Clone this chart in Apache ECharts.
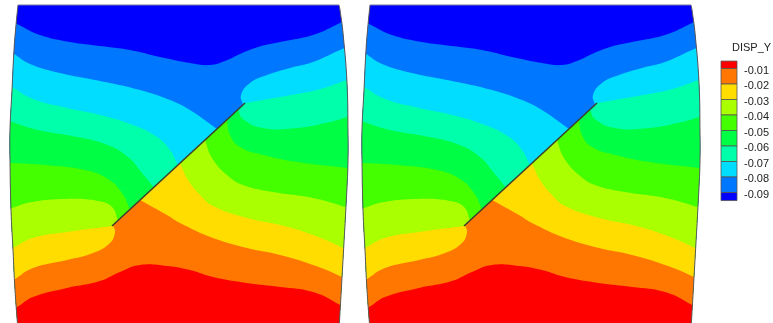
<!DOCTYPE html>
<html>
<head>
<meta charset="utf-8">
<style>
  html, body { margin: 0; padding: 0; background: #fff; overflow: hidden; }
  #main { width: 773px; height: 323px; filter: blur(0.5px); }
</style>
<script src="https://cdn.jsdelivr.net/npm/echarts@6/dist/echarts.min.js"></script>
</head>
<body>
<div id="main"></div>
<script>
// contour levels, top of the legend first
var levels = [-0.01, -0.02, -0.03, -0.04, -0.05, -0.06, -0.07, -0.08, -0.09];
var legendTop = -0.0052, legendBottom = -0.0952;
var bandColors = ['#ff0000', '#ff7700', '#ffdd00', '#aaff00', '#44ff00', '#00ff44', '#00ffaa', '#00ddff', '#0077ff', '#0000ff'];

// plate outline
var plateLeft = [[18, 5], [16, 25], [14, 50], [12, 90], [10, 130], [10, 160], [11, 210], [13, 250], [15, 290], [18, 330]];
var plateRight = [[339, 330], [343, 260], [347, 187], [348, 160], [348, 133], [347, 83], [343, 33], [340, 10], [339, 5]];
var crack = [[112, 226], [245, 103]];

// contour lines; L = left of the crack, R = right of it
var line1 = [[0, 16], [17, 24], [40, 35], [70, 42], [100, 46], [130, 50], [160, 57], [190, 63], [210, 65], [225, 61], [240, 54], [258, 47], [280, 42], [313, 35], [340, 23], [360, 13]];
var line2L = [[0, 46], [14, 54], [30, 64], [60, 73], [100, 81], [140, 90], [170, 100], [190, 110], [217, 129]];
var line2R = [[243, 105], [241, 95], [250, 83], [267, 75], [290, 68], [313, 62], [340, 50], [360, 42]];
var line3L = [[0, 80], [12, 87], [33, 99], [67, 108], [100, 115], [133, 125], [157, 137], [170, 150], [178, 165]];
var line3R = [[245, 103], [263, 100], [297, 94], [317, 90], [347, 80], [360, 75]];
var line4L = [[0, 118], [12, 122], [38, 130], [72, 136], [105, 144], [128, 157], [142, 173], [154, 187.5]];
var line4R = [[238, 109.5], [243, 119], [263, 128], [297, 128], [330, 122], [347, 117], [360, 112]];
var line5L = [[0, 163], [12, 163], [45, 165], [85, 170], [108, 179], [122, 193], [130, 209]];
var line5R = [[227, 120], [230, 135], [240, 147], [263, 155], [297, 162], [347, 168], [360, 170]];
var line6L = [[0, 213], [12, 208], [32, 202], [65, 199], [98, 201], [112, 207], [118, 220.5]];
var line6R = [[205, 140], [212, 158], [227, 175], [243, 185], [273, 192], [313, 198], [345, 207], [360, 213]];
var line7L = [[0, 255], [13, 248], [33, 238], [67, 232], [112, 226]];
var line7R = [[180, 163], [188, 180], [200, 195], [213, 206], [247, 218], [280, 225], [313, 235], [343, 248], [360, 257]];
var line8L = [[0, 288], [15, 279], [33, 268], [67, 260], [93, 253], [110, 243], [115, 232], [113, 225]];
var line8R = [[140, 200], [167, 215], [180, 223], [213, 238], [247, 248], [280, 255], [313, 265], [342, 277], [360, 288]];
var line9 = [[0, 315], [17, 307], [33, 297], [67, 288], [100, 281], [120, 272], [140, 265], [167, 266], [190, 270], [213, 277], [247, 283], [280, 287], [313, 292], [340, 305], [360, 318]];

// each entry is the upper edge of one painted layer, blue first
var layerLines = [
  [[[-15, -10], [365, -10]]],
  [line1],
  [line2L, line2R],
  [line3L, line3R],
  [line4L, line4R],
  [line5L, line5R],
  [line6L, line6R],
  [line7L, line7R],
  [line8L, line8R],
  [line9]
];

// repeated points keep the corners sharp when the polygon is smoothed
function layerPath(parts) {
  var path = [];
  parts.forEach(function (part, i) {
    if (i > 0) path.push(part[0]);
    path = path.concat(part);
    if (i < parts.length - 1) path.push(part[part.length - 1]);
  });
  var first = path[0], last = path[path.length - 1];
  return [first].concat(path, [last, [365, 345], [365, 345], [-15, 345], [-15, 345]]);
}

function toPixels(api, pts) {
  return pts.map(function (p) { return api.coord(p); });
}

function platePath() {
  var left = plateLeft, right = plateRight;
  return [left[0]].concat(left, [left[left.length - 1], right[0]], right, [right[right.length - 1]]);
}

function renderLayer(params, api) {
  var idx = api.value(0);
  return {
    type: 'polygon',
    shape: { points: toPixels(api, layerPath(layerLines[idx])), smooth: 0.45 },
    clipPath: { type: 'polygon', shape: { points: toPixels(api, platePath()), smooth: 0.45 } },
    style: { fill: bandColors[bandColors.length - 1 - idx] }
  };
}

function renderPlate(params, api) {
  var lines = [plateLeft, plateRight].map(function (side) {
    return {
      type: 'polyline',
      shape: { points: toPixels(api, side), smooth: 0.45 },
      style: { fill: null, stroke: '#5a5a5a', lineWidth: 1 }
    };
  });
  var a = api.coord(plateLeft[0]), b = api.coord(plateRight[plateRight.length - 1]);
  lines.push({
    type: 'line',
    shape: { x1: a[0], y1: a[1], x2: b[0], y2: b[1] },
    style: { stroke: '#77779a', lineWidth: 1 }
  });
  var c0 = api.coord(crack[0]), c1 = api.coord(crack[1]);
  lines.push({
    type: 'line',
    shape: { x1: c0[0], y1: c0[1], x2: c1[0], y2: c1[1] },
    style: { stroke: '#3d3d2a', lineWidth: 1.5 }
  });
  return { type: 'group', children: lines };
}

function renderBand(params, api) {
  var top = api.coord([0, api.value(0)]);
  var bottom = api.coord([0, api.value(1)]);
  return {
    type: 'rect',
    shape: { x: params.coordSys.x, y: top[1], width: params.coordSys.width, height: bottom[1] - top[1] },
    style: { fill: bandColors[api.value(2)], stroke: '#555', lineWidth: 0.8 }
  };
}

var edges = [legendTop].concat(levels, [legendBottom]);
var legendBands = bandColors.map(function (c, i) { return [edges[i], edges[i + 1], i]; });
var layerIds = layerLines.map(function (l, i) { return [i]; });

var chart = echarts.init(document.getElementById('main'), null, { renderer: 'canvas' });
chart.setOption({
  animation: false,
  backgroundColor: '#fff',
  title: {
    text: 'DISP_Y',
    left: 732, top: 42, padding: 0,
    textStyle: { fontFamily: 'Liberation Sans', fontSize: 11, fontWeight: 'normal', color: '#222' }
  },
  grid: [
    { left: 0, top: 0, width: 352, height: 323 },
    { left: 352, top: 0, width: 352, height: 323 },
    { left: 721, top: 53, width: 16, height: 155 },
    // the legend labels sit a little lower than the band edges
    { left: 721, top: 55.3, width: 16, height: 155 }
  ],
  xAxis: [
    { gridIndex: 0, type: 'value', min: 0, max: 352, show: false },
    { gridIndex: 1, type: 'value', min: 0, max: 352, show: false },
    { gridIndex: 2, type: 'value', min: 0, max: 1, show: false },
    { gridIndex: 3, type: 'value', min: 0, max: 1, show: false }
  ],
  yAxis: [
    { gridIndex: 0, type: 'value', min: 0, max: 323, inverse: true, show: false },
    { gridIndex: 1, type: 'value', min: 0, max: 323, inverse: true, show: false },
    { gridIndex: 2, type: 'value', min: -0.1, max: 0, show: false },
    {
      gridIndex: 3, type: 'value', min: -0.1, max: 0, interval: 0.01, position: 'right',
      axisLine: { show: false }, axisTick: { show: false }, splitLine: { show: false },
      axisLabel: {
        margin: 7, showMinLabel: false, showMaxLabel: false,
        fontFamily: 'Liberation Sans', fontSize: 11, color: '#222',
        formatter: function (v) { return v.toFixed(2); }
      }
    }
  ],
  series: [
    { type: 'custom', xAxisIndex: 0, yAxisIndex: 0, renderItem: renderLayer, data: layerIds, silent: true },
    { type: 'custom', xAxisIndex: 1, yAxisIndex: 1, renderItem: renderLayer, data: layerIds, silent: true },
    { type: 'custom', xAxisIndex: 0, yAxisIndex: 0, renderItem: renderPlate, data: [[0]], silent: true, z: 5 },
    { type: 'custom', xAxisIndex: 1, yAxisIndex: 1, renderItem: renderPlate, data: [[0]], silent: true, z: 5 },
    { type: 'custom', xAxisIndex: 2, yAxisIndex: 2, renderItem: renderBand, data: legendBands, silent: true, z: 6 }
  ]
});
</script>
</body>
</html>
